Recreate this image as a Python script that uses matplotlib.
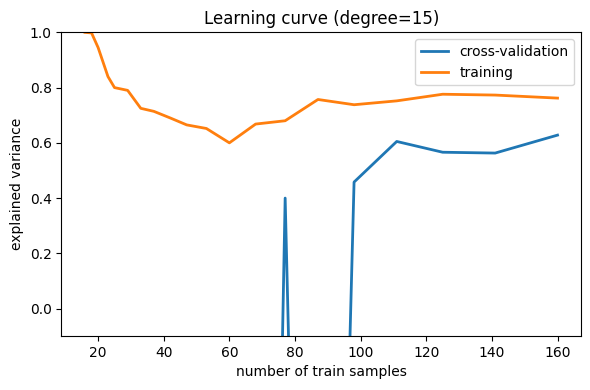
import matplotlib
matplotlib.use('Agg')
import matplotlib.pyplot as plt

# train sizes
train_sizes = [16, 18, 20, 23, 25, 29, 33, 37, 42, 47, 53, 60, 68, 77, 87, 98, 111, 125, 141, 160]

# explained variance (cv values far below the axis are clipped in the view)
cv_scores = [-40.0, -35.0, -30.0, -28.0, -25.0, -22.0, -20.0, -18.0, -15.0, -12.0,
             -10.0, -8.0, -5.2, 0.40, -4.5, 0.458, 0.605, 0.566, 0.563, 0.628]
train_scores = [1.0, 0.998, 0.945, 0.84, 0.80, 0.79, 0.725, 0.714, 0.69, 0.665,
                0.652, 0.60, 0.668, 0.68, 0.757, 0.738, 0.752, 0.776, 0.773, 0.762]

fig, ax = plt.subplots(figsize=(5.9, 3.9), dpi=100)
ax.plot(train_sizes, cv_scores, lw=2, label='cross-validation')
ax.plot(train_sizes, train_scores, lw=2, label='training')

ax.set_ylim(-0.1, 1.0)
ax.set_xlabel('number of train samples')
ax.set_ylabel('explained variance')
ax.set_title('Learning curve (degree=15)')
ax.legend(loc='upper right')

fig.subplots_adjust(left=0.104, right=0.985, top=0.917, bottom=0.138)
fig.savefig('out.png', dpi=100)
